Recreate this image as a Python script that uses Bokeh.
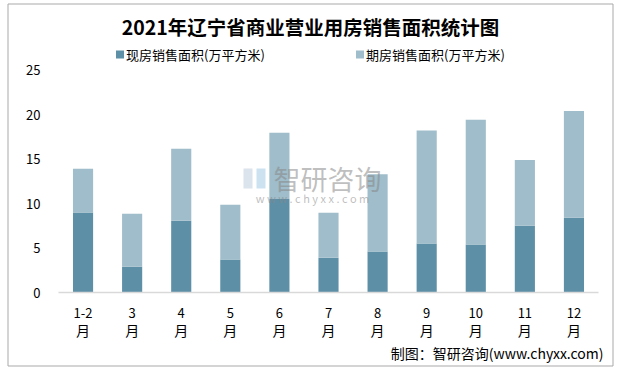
from bokeh.plotting import figure
from bokeh.models import Range1d, ColumnDataSource
from bokeh.core.properties import value
from bokeh.embed import file_html
from bokeh.resources import INLINE

# ---- data ----
months = ["1-2月", "3月", "4月", "5月", "6月", "7月", "8月", "9月", "10月", "11月", "12月"]
xianfang = [9.0, 2.9, 8.05, 3.7, 10.5, 3.9, 4.6, 5.5, 5.4, 7.5, 8.4]      # 现房销售面积
qifang = [4.9, 5.95, 8.1, 6.15, 7.45, 5.05, 8.7, 12.7, 14.0, 7.4, 12.0]   # 期房销售面积
series_names = ["现房销售面积(万平方米)", "期房销售面积(万平方米)"]
colors = ["#5d8fa6", "#9fbdca"]
y_ticks = [0, 5, 10, 15, 20, 25]
title_text = "2021年辽宁省商业营业用房销售面积统计图"
footer_text = "制图：智研咨询(www.chyxx.com)"

FONT = value("Noto Sans CJK SC")
W, H = 620, 369
n = len(months)

# layout (page pixels): plot area left/right edges and y=0 / y=25 rows
PL, PR, PB, PT = 58, 598, 292, 69.5
PX_X = (PR - PL) / n          # pixels per category
PX_Y = (PB - PT) / 25         # pixels per unit

def dx(px):
    return -0.5 + (px - PL) / PX_X

def dy(py):
    return (PB - py) / PX_Y

p = figure(width=W, height=H, output_backend="svg", toolbar_location=None,
           x_range=Range1d(dx(0), dx(W)), y_range=Range1d(dy(H), dy(0)),
           min_border=0)
p.axis.visible = False
p.grid.visible = False
p.outline_line_color = None
p.background_fill_color = "white"
p.border_fill_color = "white"

# outer border
p.quad(left=[dx(7.5)], right=[dx(612.5)], top=[dy(3.5)], bottom=[dy(365.5)],
       fill_alpha=0, line_color="#a9a9a9", line_width=1)

# bars
src = ColumnDataSource(dict(x=list(range(n)), xf=xianfang, qf=qifang))
p.vbar_stack(["xf", "qf"], x="x", width=0.41, source=src, color=colors, line_color=None)

# x axis line
p.segment(x0=[-0.5], x1=[n - 0.5], y0=[0], y1=[0], line_color="#d9d9d9", line_width=1.5)

# y tick labels
p.text(x=[dx(40)] * len(y_ticks), y=y_ticks, text=[str(t) for t in y_ticks],
       text_font=FONT, text_font_size="13px", text_align="right", text_baseline="middle",
       text_color="#000000")

# x tick labels (two lines)
p.text(x=list(range(n)), y=[dy(312)] * n, text=[m[:-1] for m in months],
       text_font=FONT, text_font_size="13px", text_align="center", text_baseline="middle",
       text_color="#000000")
p.text(x=list(range(n)), y=[dy(329)] * n, text=[m[-1] for m in months],
       text_font=FONT, text_font_size="14px", text_align="center", text_baseline="middle",
       text_color="#000000")

# title
p.text(x=[dx(310)], y=[dy(26)], text=[title_text], text_font=FONT, text_font_size="19.5px",
       text_font_style="bold", text_align="center", text_baseline="middle", text_color="#000000")

# legend
for sx, name, c in zip([119.5, 359.5], series_names, colors):
    p.scatter([dx(sx)], [dy(54)], marker="square", size=8, color=c, line_color=None)
    p.text(x=[dx(sx + 6)], y=[dy(54)], text=[name], text_font=FONT, text_font_size="13px",
           text_align="left", text_baseline="middle", text_color="#000000")

# watermark
p.quad(left=[dx(243)], right=[dx(252)], top=[dy(168)], bottom=[dy(188)],
       fill_color="#b7c7dc", fill_alpha=0.5, line_color=None)
p.quad(left=[dx(256)], right=[dx(265)], top=[dy(168)], bottom=[dy(188)],
       fill_color="#9cc6e4", fill_alpha=0.5, line_color=None)
p.text(x=[dx(273)], y=[dy(178)], text=["智研咨询"], text_font=FONT, text_font_size="27px",
       text_align="left", text_baseline="middle", text_color="#888888", text_alpha=0.55)
p.text(x=[dx(312)], y=[dy(197)], text=["w w w . c h y x x . c o m"], text_font=FONT,
       text_font_size="11px", text_align="center", text_baseline="middle",
       text_color="#888888", text_alpha=0.55)

# footer
p.text(x=[dx(603)], y=[dy(352)], text=[footer_text], text_font=FONT, text_font_size="14px",
       text_align="right", text_baseline="middle", text_color="#000000")

open("out.html", "w").write(file_html(p, INLINE))
